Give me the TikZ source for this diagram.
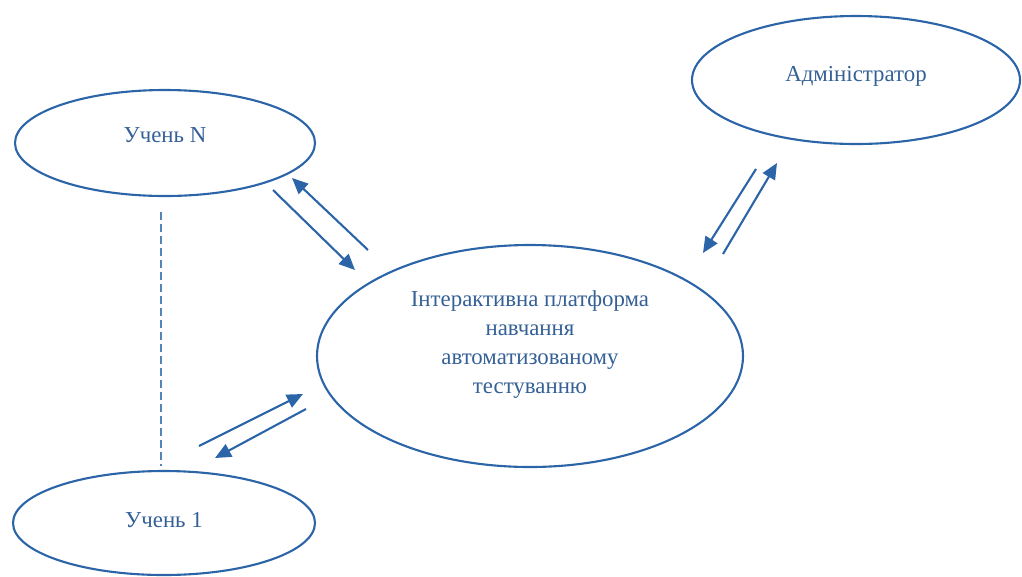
\documentclass[tikz,border=0pt]{standalone}
\usepackage{fontspec}
\setmainfont{Liberation Serif}
\usetikzlibrary{shapes.geometric,arrows.meta}
\definecolor{lineblue}{RGB}{44,100,168}
\definecolor{textblue}{RGB}{52,96,150}
\begin{document}
\begin{tikzpicture}
        [
            x=0.02cm,
            y=-0.02cm,
            line width=1.2pt,
            oval/.style={ellipse, draw=lineblue, inner sep=0pt},
            txt/.style={text=textblue, font=\fontsize{13}{16.5}\selectfont, align=center},
            link/.style={draw=lineblue, -{Triangle[length=0.32cm, width=0.28cm]}}
        ]
        \useasboundingbox (0, 0) rectangle (1022, 576);

        \node[oval, minimum width=300*0.02cm, minimum height=106*0.02cm,
            label={[txt, yshift=0.16cm]center:Учень N}] (uN) at (165, 143) {};
        \node[oval, minimum width=302*0.02cm, minimum height=104*0.02cm,
            label={[txt, yshift=0.06cm]center:Учень 1}] (u1) at (164, 523) {};
        \node[oval, minimum width=328*0.02cm, minimum height=128*0.02cm,
            label={[txt, yshift=0.08cm]center:Адміністратор}] (adm) at (856, 80) {};
        \node[oval, minimum width=426*0.02cm, minimum height=222*0.02cm,
            label={[txt, yshift=0.22cm]center:Інтерактивна платформа\\навчання\\автоматизованому\\тестуванню}] (pl) at (530, 356) {};

        % arrow ends
        \coordinate (a1) at (273, 190);
        \coordinate (a2) at (355, 270);
        \coordinate (b1) at (368, 250);
        \coordinate (b2) at (292, 178);
        \coordinate (c1) at (756, 169);
        \coordinate (c2) at (703, 253);
        \coordinate (d1) at (723, 254);
        \coordinate (d2) at (777, 163);
        \coordinate (e1) at (199, 446);
        \coordinate (e2) at (303, 394);
        \coordinate (f1) at (306, 409);
        \coordinate (f2) at (215, 458);
        \coordinate (s1) at (161, 212);
        \coordinate (s2) at (161, 466);

        \draw[link] (a1) -- (a2);
        \draw[link] (b1) -- (b2);
        \draw[link] (c1) -- (c2);
        \draw[link] (d1) -- (d2);
        \draw[link] (e1) -- (e2);
        \draw[link] (f1) -- (f2);

        \draw[lineblue!80, line width=0.7pt, dash pattern=on 0.16cm off 0.08cm] (s1) -- (s2);
    \end{tikzpicture}
\end{document}
